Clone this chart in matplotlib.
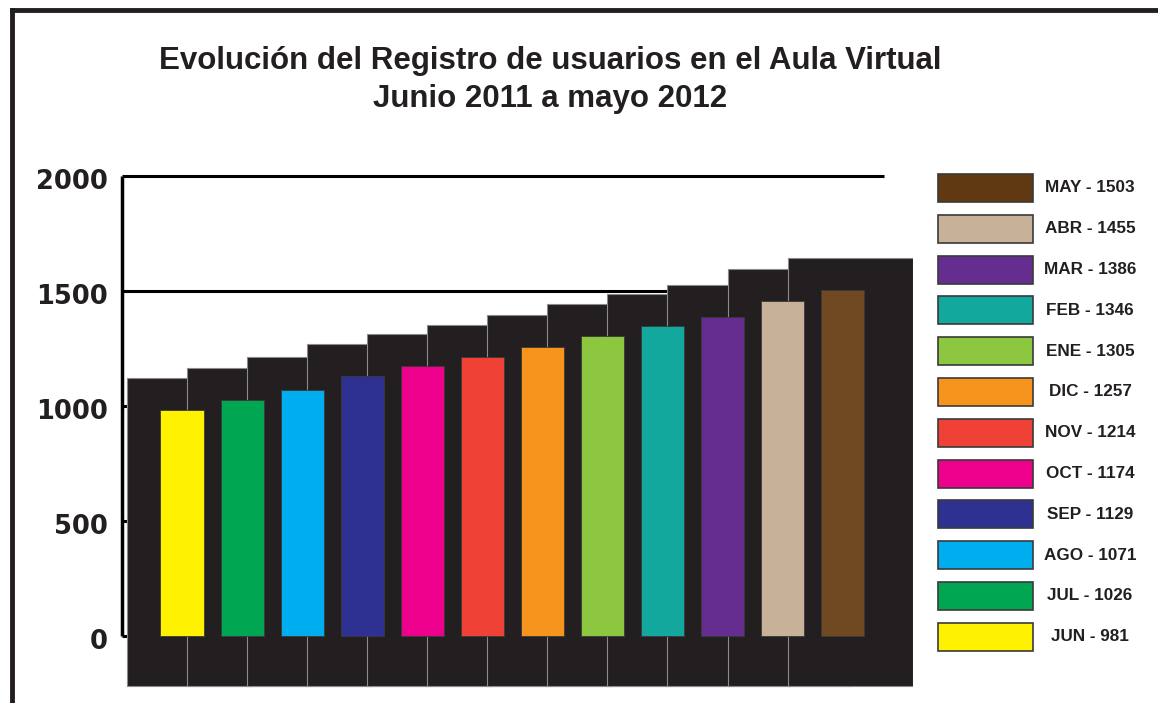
import numpy as np
import matplotlib.pyplot as plt
from matplotlib.patches import Rectangle
from matplotlib.lines import Line2D

## data
months = ["JUN", "JUL", "AGO", "SEP", "OCT", "NOV", "DIC", "ENE", "FEB", "MAR", "ABR", "MAY"]
values = [981, 1026, 1071, 1129, 1174, 1214, 1257, 1305, 1346, 1386, 1455, 1503]
colors = ["#fff200", "#00a651", "#00aeef", "#2e3192", "#ec008c", "#ef4136",
          "#f7941d", "#8dc63f", "#12a89d", "#662d91", "#c7b299", "#603913"]
yticks = [0, 500, 1000, 1500, 2000]

dark = "#231f20"

fig = plt.figure(figsize=(11.58, 7.03), dpi=100)
ax = fig.add_axes([0.1054, 0.0185, 0.683, 0.7311])

x = np.arange(len(months))
## dark staircase blocks behind each bar (artifact of the original)
for i, v in enumerate(values):
    ax.add_patch(Rectangle((i - 0.92, -217), 2.08, v + 140 + 217,
                           facecolor=dark, edgecolor="#8a8a8a", lw=0.8, zorder=2))
bars = ax.bar(x, values, width=0.72, color=colors, edgecolor="#3a3a3a", lw=0.6, zorder=3)
bars[-1].set_facecolor("#704822")

## horizontal reference lines
for t in yticks:
    ax.hlines(t, -1, 11.68, color="black", lw=2.2, zorder=1, clip_on=False)
ax.vlines(-1, 0, 2000, color="black", lw=2.5, zorder=4, clip_on=False)
for t in yticks:
    ax.text(-1.23, t - 28, str(t), ha="right", va="center", fontsize=18.5,
            fontweight="heavy", color="#231f20")

ax.set_xlim(-1, 12.167)
ax.set_ylim(-235, 2000)
ax.axis("off")

## title
fig.text(0.475, 0.913, "Evolución del Registro de usuarios en el Aula Virtual",
         ha="center", va="center", fontsize=22.5, fontweight="bold",
         family="Liberation Sans", color="#231f20")
fig.text(0.475, 0.859, "Junio 2011 a mayo 2012", ha="center", va="center",
         fontsize=22.5, fontweight="bold", family="Liberation Sans", color="#231f20")

## outer frame (left and top)
fig.add_artist(Line2D([12 / 1158, 12 / 1158], [0, 1 - 10 / 703], color="#231f20",
                      lw=3.5, transform=fig.transFigure))
fig.add_artist(Line2D([12 / 1158, 1], [1 - 10 / 703, 1 - 10 / 703], color="#231f20",
                      lw=3.5, transform=fig.transFigure))

## legend
for k, i in enumerate(range(len(months) - 1, -1, -1)):
    yc = 188 + k * 40.8
    fig.add_artist(Rectangle((938 / 1158, 1 - (yc + 14) / 703), 95 / 1158, 28 / 703,
                             facecolor=colors[i], edgecolor="#3a3a3a", lw=1.2,
                             transform=fig.transFigure))
    fig.text(1090 / 1158, 1 - yc / 703, f"{months[i]} - {values[i]}", ha="center",
             va="center", fontsize=12.3, fontweight="bold", family="Liberation Sans",
             color="#231f20")

fig.savefig("out.png", dpi=100)
